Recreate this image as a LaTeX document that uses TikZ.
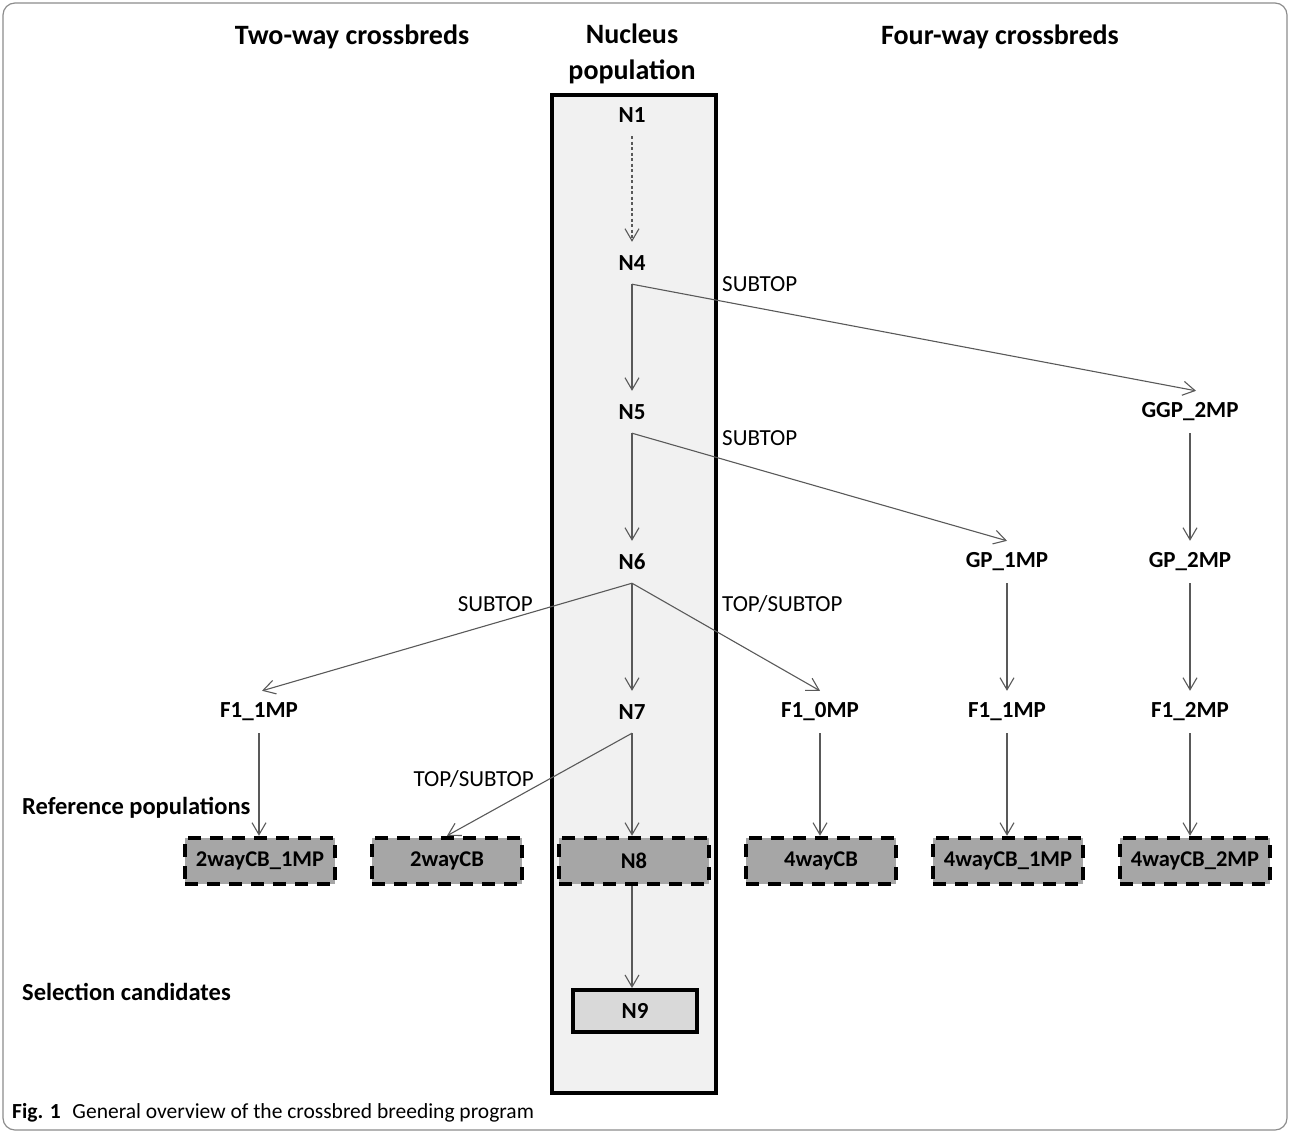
\documentclass[tikz,border=0pt]{standalone}
\usepackage{fontspec}
\setmainfont{Carlito}
\usetikzlibrary{arrows.meta}
\definecolor{linegray}{HTML}{595959}
\definecolor{nucfill}{HTML}{F1F1F1}
\definecolor{reffill}{HTML}{A6A6A6}
\definecolor{selfill}{HTML}{D9D9D9}
\definecolor{framegray}{HTML}{8C8C8C}
\begin{document}
\begin{tikzpicture}[x=1pt,y=-1pt,
  hdr/.style={font=\fontsize{28}{34}\selectfont\bfseries, align=center, inner sep=0},
  lbl/.style={font=\fontsize{23}{27}\selectfont\bfseries, inner sep=0, minimum height=42pt},
  side/.style={font=\fontsize{24.5}{28}\selectfont\bfseries, inner sep=0, anchor=west},
  elbl/.style={font=\fontsize{23}{27}\selectfont, inner sep=0},
  refbox/.style={draw=black, fill=reffill, line width=4.5pt, dash pattern=on 13pt off 9pt,
     minimum width=150pt, minimum height=46pt, inner sep=0, font=\fontsize{22.5}{27}\selectfont\bfseries},
  selbox/.style={draw=black, fill=selfill, line width=4pt,
     minimum width=124pt, minimum height=42pt, inner sep=0, font=\fontsize{23}{27}\selectfont\bfseries},
  arr/.style={draw=linegray, line width=1.1pt, -{Straight Barb[length=12pt,width=14pt]}},
]
\useasboundingbox (0,0) rectangle (1290,1133);
\draw[framegray, line width=1.2pt, rounded corners=12pt] (3,3) rectangle (1287,1130);

% nucleus column
\node[draw=black, fill=nucfill, line width=4pt, minimum width=164pt, minimum height=998pt,
      anchor=north west, inner sep=0] (nucleus) at (550,93) {};

% headers
\node[hdr] (h2) at (352,37) {Two-way crossbreds};
\node[hdr] (hn) at (632,54) {Nucleus\\[2pt]population};
\node[hdr] (h4) at (1000,37) {Four-way crossbreds};

% side labels
\node[side] (refpop) at (22,808) {Reference populations};
\node[side] (selcand) at (22,992) {Selection candidates};

% nucleus nodes
\node[lbl] (N1) at (632,115) {N1};
\node[lbl] (N4) at (632,263) {N4};
\node[lbl] (N5) at (632,412) {N5};
\node[lbl] (N6) at (632,562) {N6};
\node[lbl] (N7) at (632,712) {N7};

% four-way nodes
\node[lbl] (GGP2) at (1190,412) {GGP\_2MP};
\node[lbl] (GP1) at (1007,562) {GP\_1MP};
\node[lbl] (GP2) at (1190,562) {GP\_2MP};
\node[lbl] (F1L) at (259,712) {F1\_1MP};
\node[lbl] (F10) at (820,712) {F1\_0MP};
\node[lbl] (F1R) at (1007,712) {F1\_1MP};
\node[lbl] (F12) at (1190,712) {F1\_2MP};

% reference boxes
\node[refbox] (R1) at (260,861) {2wayCB\_1MP};
\node[refbox] (R2) at (447,861) {2wayCB};
\node[refbox] (R3) at (634,861) {N8};
\node[refbox] (R4) at (821,861) {4wayCB};
\node[refbox] (R5) at (1008,861) {4wayCB\_1MP};
\node[refbox] (R6) at (1195,861) {4wayCB\_2MP};

% selection candidate
\node[selbox] (N9) at (635,1011) {N9};

% connectors
\draw[arr, dash pattern=on 3pt off 2.5pt] (N1.south) -- (N4.north);
\draw[arr] (N4.south) -- (N5.north);
\draw[arr] (N4.south) -- ([xshift=6pt]GGP2.north);
\draw[arr] (N5.south) -- (N6.north);
\draw[arr] (N5.south) -- (GP1.north);
\draw[arr] (N6.south) -- ([xshift=3pt]F1L.north);
\draw[arr] (N6.south) -- (N7.north);
\draw[arr] (N6.south) -- (F10.north);
\draw[arr] (N7.south) -- (R2.north);
\draw[arr] (N7.south) -- (N7.south |- R3.north);
\draw[arr] (F1L.south) -- (F1L.south |- R1.north);
\draw[arr] (F10.south) -- (F10.south |- R4.north);
\draw[arr] (F1R.south) -- (F1R.south |- R5.north);
\draw[arr] (F12.south) -- (F12.south |- R6.north);
\draw[arr] (GGP2.south) -- (GP2.north);
\draw[arr] (GP1.south) -- (F1R.north);
\draw[arr] (GP2.south) -- (F12.north);
\draw[arr] (N7.south |- R3.south) -- (N7.south |- N9.north);

% edge labels
\node[elbl, anchor=west] (l1) at (722,284) {SUBTOP};
\node[elbl, anchor=west] (l2) at (722,438) {SUBTOP};
\node[elbl, anchor=east] (l3) at (533,604) {SUBTOP};
\node[elbl, anchor=west] (l4) at (722,604) {TOP/SUBTOP};
\node[elbl, anchor=east] (l5) at (534,779) {TOP/SUBTOP};

% caption
\node[anchor=west, inner sep=0, font=\fontsize{21.5}{25}\selectfont] (cap) at (12,1113)
  {\textbf{Fig. 1}\hspace{0.55em}General overview of the crossbred breeding program};
\end{tikzpicture}
\end{document}
